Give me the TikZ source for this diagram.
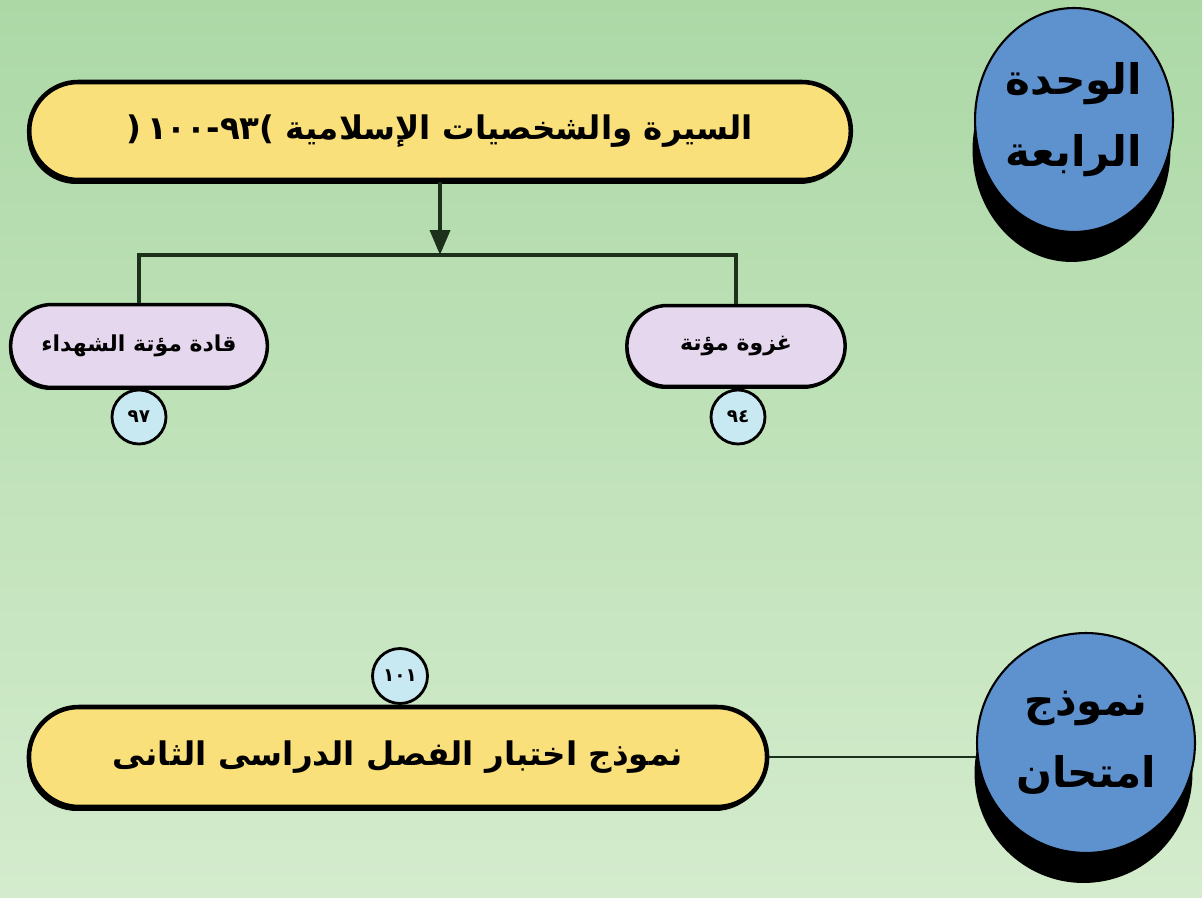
\documentclass[tikz,border=0pt]{standalone}
\usepackage{fontspec}
\newfontfamily\arabicfont[Script=Arabic]{DejaVu Sans}
\TeXXeTstate=1
\usetikzlibrary{shapes.misc,shapes.geometric,shadows,arrows.meta}
\definecolor{bgtop}{RGB}{172,216,166}
\definecolor{bgbot}{RGB}{212,236,205}
\definecolor{unitblue}{RGB}{94,146,207}
\definecolor{topicyellow}{RGB}{250,224,122}
\definecolor{lessonlilac}{RGB}{229,215,237}
\definecolor{pageblue}{RGB}{200,232,242}
\definecolor{linkgreen}{RGB}{28,48,28}

\begin{document}
\begin{tikzpicture}[x=0.02cm,y=-0.02cm,
  unitball/.style={ellipse,draw=black,line width=1.2pt,fill=unitblue,inner sep=0pt,
    drop shadow={shadow xshift=-0.05cm,shadow yshift=-0.6cm,fill=black,opacity=1},
    align=center,font=\arabicfont\bfseries\fontsize{24}{41}\selectfont},
  topicbox/.style={rounded rectangle,draw=black,line width=2.6pt,fill=topicyellow,
    drop shadow={shadow xshift=-0.04cm,shadow yshift=-0.08cm,fill=black,opacity=1},
    font=\arabicfont\bfseries\fontsize{18.5}{22}\selectfont},
  lessonbox/.style={rounded rectangle,draw=black,line width=2pt,fill=lessonlilac,
    drop shadow={shadow xshift=-0.03cm,shadow yshift=-0.05cm,fill=black,opacity=1},
    font=\arabicfont\bfseries\fontsize{12.5}{15}\selectfont},
  pagedot/.style={circle,draw=black,line width=1.6pt,fill=pageblue,inner sep=0pt,
    minimum size=1.08cm,font=\arabicfont\bfseries\fontsize{10.5}{12}\selectfont},
  link/.style={draw=linkgreen,line width=2.2pt}]
\useasboundingbox (0,0) rectangle (1202,898);
\shade[top color=bgtop,bottom color=bgbot] (0,0) rectangle (1202,898);

\node[unitball,minimum width=3.96cm,minimum height=4.48cm] (unit) at (1074,120)
  {\beginR الوحدة\endR\\\beginR الرابعة\endR};
\node[topicbox,minimum width=16.67cm,minimum height=1.96cm] (topic) at (440,131)
  {\beginR السيرة والشخصيات الإسلامية \beginL\hbox{(}\,١٠٠\hbox{-}٩٣\hbox{)}\endL\endR};
\coordinate (fork) at (440,255);
\node[lessonbox,minimum width=5.37cm,minimum height=1.66cm] (leaders) at (139,346)
  {\beginR قادة مؤتة الشهداء\endR};
\node[lessonbox,minimum width=4.6cm,minimum height=1.62cm] (battle) at (736,346)
  {\beginR غزوة مؤتة\endR};
\node[pagedot] (p97) at (139,417) {٩٧};
\node[pagedot] (p94) at (738,417) {٩٤};

\node[unitball,minimum width=4.36cm,minimum height=4.4cm] (exampart) at (1086,743)
  {\beginR نموذج\endR\\\beginR امتحان\endR};
\node[topicbox,minimum width=15cm,minimum height=2.0cm] (exam) at (398,757)
  {\beginR نموذج اختبار الفصل الدراسى الثانى\endR};
\node[pagedot,minimum size=1.1cm] (p101) at (400,676) {١٠١};

\draw[link,-{Triangle[length=0.5cm,width=0.4cm]}] (topic.south) -- (fork);
\draw[link] (leaders.north) |- (fork) -| (battle.north);
\draw[link,line width=1.6pt] (exam.east) -- (exam.east -| exampart.west);
\end{tikzpicture}
\end{document}
